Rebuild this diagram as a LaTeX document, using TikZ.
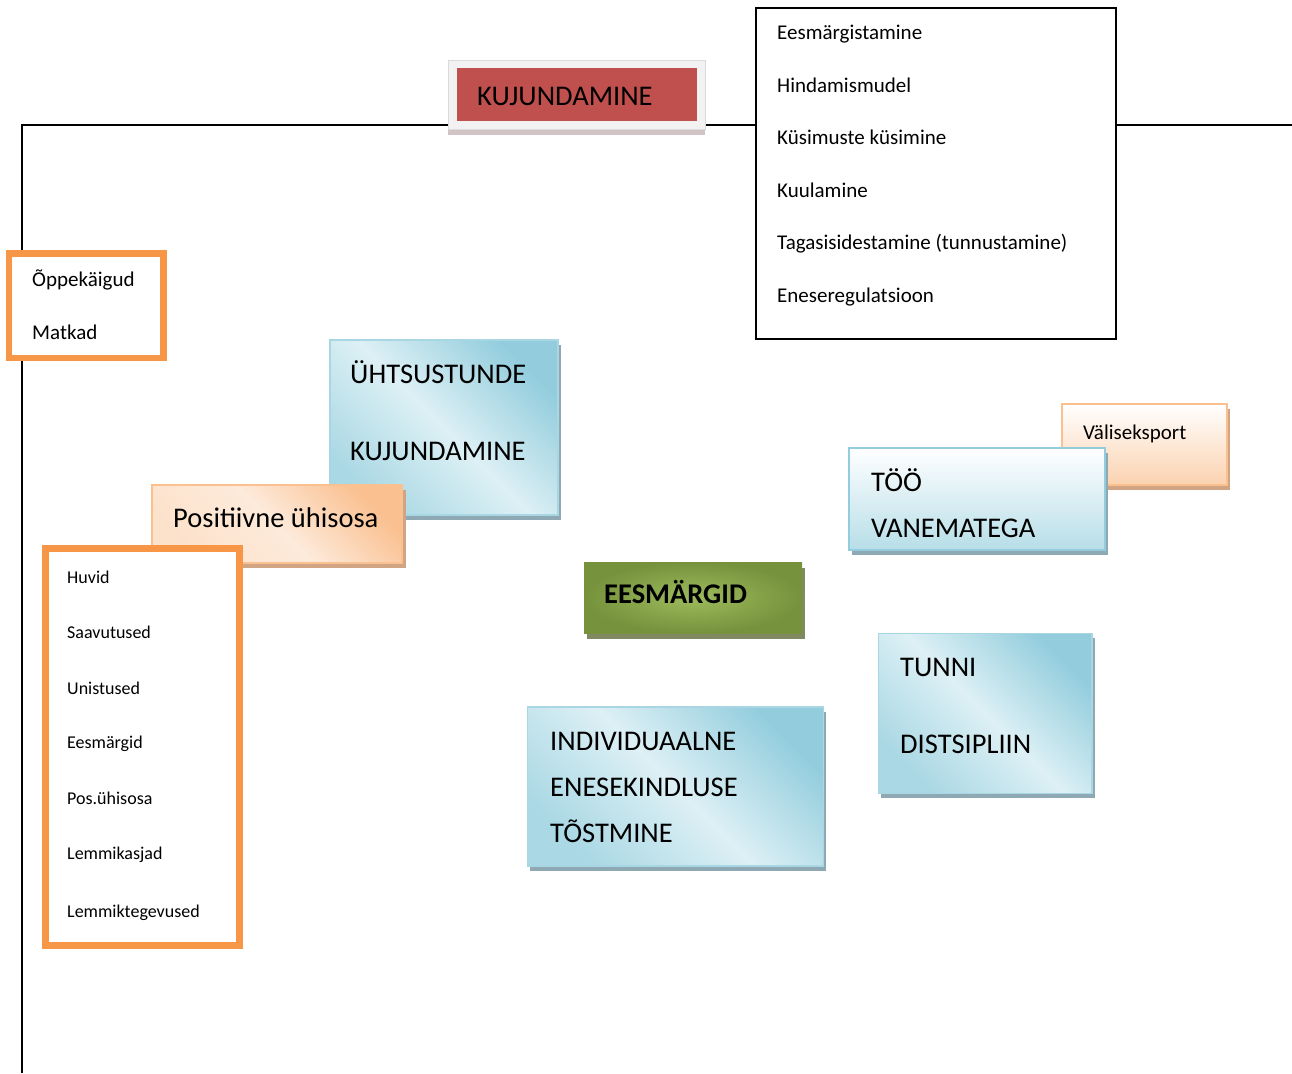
\documentclass[tikz,border=0pt]{standalone}
\usepackage{fontspec}
\setmainfont{Carlito}
\usetikzlibrary{shadows}

\definecolor{kujRed}{HTML}{C0504D}
\definecolor{frameGray}{HTML}{F2F2F2}
\definecolor{frameShadow}{HTML}{9C7D7C}
\definecolor{boxOrange}{HTML}{F79646}
\definecolor{blueDark}{HTML}{93CDDD}
\definecolor{blueMid}{HTML}{AAD8E4}
\definecolor{blueLight}{HTML}{DDF0F5}
\definecolor{blueEdge}{HTML}{A9D6E3}
\definecolor{blueBottom}{HTML}{B7DEE8}
\definecolor{blueShadow}{HTML}{8EA9B4}
\definecolor{peachDark}{HTML}{FAC090}
\definecolor{peachLight}{HTML}{FDEADA}
\definecolor{peachBottom}{HTML}{FBD2AF}
\definecolor{peachShadow}{HTML}{D1A584}
\definecolor{greenDark}{HTML}{76923C}
\definecolor{greenLight}{HTML}{9DBB5C}
\definecolor{greenShadow}{HTML}{7F8A62}

\begin{document}
\begin{tikzpicture}[x=1pt, y=-1pt,
	box style/.style={rectangle, anchor=north west, inner sep=0, outer sep=0},
	frame style/.style={box style, fill=frameGray, draw=frameGray!90!black, line width=0.6pt, drop shadow={shadow xshift=0pt, shadow yshift=-6pt, fill=frameShadow, opacity=0.45}},
	red style/.style={box style, fill=kujRed},
	list style/.style={box style, draw, fill=white, line width=2pt},
	orange style/.style={box style, draw=boxOrange, fill=white, line width=6.8pt},
	blue style/.style={box style, draw=blueEdge, line width=1.6pt, top color=blueDark, bottom color=blueMid, middle color=blueLight, shading angle=-45, drop shadow={shadow xshift=3pt, shadow yshift=-5pt, fill=blueShadow, opacity=1}},
	peach style/.style={box style, draw=peachDark, line width=1.6pt, top color=peachDark, bottom color=peachLight!80!peachDark, middle color=peachLight, shading angle=-45, drop shadow={shadow xshift=4pt, shadow yshift=-5pt, fill=peachShadow, opacity=1}},
	light peach style/.style={box style, draw=peachDark, line width=2pt, top color=white, bottom color=peachBottom, drop shadow={shadow xshift=3pt, shadow yshift=-5pt, fill=peachShadow, opacity=1}},
	light blue style/.style={box style, draw=blueDark, line width=2pt, top color=white, bottom color=blueBottom, drop shadow={shadow xshift=3pt, shadow yshift=-5pt, fill=blueShadow, opacity=1}},
	green style/.style={box style, inner color=greenLight, outer color=greenDark, drop shadow={shadow xshift=3pt, shadow yshift=-6pt, fill=greenShadow, opacity=1}},
	big text/.style={anchor=base west, inner sep=0, align=left, font=\fontsize{28.5}{#1}\selectfont},
	big text/.default=34,
	small text/.style={anchor=base west, inner sep=0, align=left, font=\fontsize{21}{52.5}\selectfont},
	hobby text/.style={anchor=base west, inner sep=0, font=\fontsize{18}{22}\selectfont}]
	\useasboundingbox (0,0) rectangle (1292,1073);
	% frame lines
	\coordinate (axisBottom) at (22,1073);
	\coordinate (axisCorner) at (22,125);
	\coordinate (axisRight) at (1292,125);
	\draw[line width=1.6pt] (axisBottom) -- (axisCorner) -- (axisRight);
	% title
	\node[frame style, minimum width=257, minimum height=69] (frame) at (448,60) {};
	\node[red style, minimum width=240.3, minimum height=53.3] (shaping) at (456.7,67.7) {};
	\node[big text] (shapingText) at (477,105.7) {KUJUNDAMINE};
	% methods (text placed by its last line)
	\node[list style, minimum width=360.5, minimum height=330.7] (methods) at (755.5,8.3) {};
	\node[small text] (methodsText) at (777,302.2) {Eesmärgistamine\\Hindamismudel\\Küsimuste küsimine\\Kuulamine\\Tagasisidestamine (tunnustamine)\\Eneseregulatsioon};
	\node[orange style, minimum width=154.5, minimum height=104.5] (trips) at (9,253.5) {};
	\node[small text] (tripsText) at (32,339.3) {Õppekäigud\\Matkad};
	% boxes
	\node[blue style, minimum width=228, minimum height=175] (unity) at (330,340) {};
	\node[big text=77] (unityText) at (350,460) {ÜHTSUSTUNDE\\KUJUNDAMINE};
	\node[peach style, minimum width=250, minimum height=78] (positive) at (151.7,485) {};
	\node[big text] (positiveText) at (173,527.3) {Positiivne ühisosa};
	\node[orange style, minimum width=194.5, minimum height=397] (hobbies) at (45.3,548.5) {};
	\foreach \t/\y [count=\i] in {Huvid/583.3, Saavutused/638.3, Unistused/694, Eesmärgid/748.7, Pos.ühisosa/804, Lemmikasjad/859, Lemmiktegevused/917.7}
	\node[hobby text] (hobby\i) at (67,\y) {\t};
	\node[green style, minimum width=218, minimum height=71] (goals) at (584,562) {};
	\node[big text, font=\fontsize{28.5}{34}\selectfont\bfseries] (goalsText) at (604,603.3) {EESMÄRGID};
	\node[light peach style, minimum width=165, minimum height=81.5] (expert) at (1062,403.5) {};
	\node[small text] (expertText) at (1083,439.3) {Väliseksport};
	\node[light blue style, minimum width=256, minimum height=102] (parents) at (849,448) {};
	\node[big text=46] (parentsText) at (871,537.7) {TÖÖ\\VANEMATEGA};
	\node[blue style, minimum width=213.4, minimum height=160] (discipline) at (878.3,633.3) {};
	\node[big text=76.6] (disciplineText) at (900,753.3) {TUNNI\\DISTSIPLIIN};
	\node[blue style, minimum width=296, minimum height=159] (confidence) at (527.3,706.7) {};
	\node[big text=46] (confidenceText) at (550,842.7) {INDIVIDUAALNE\\ENESEKINDLUSE\\TÕSTMINE};
\end{tikzpicture}
\end{document}
